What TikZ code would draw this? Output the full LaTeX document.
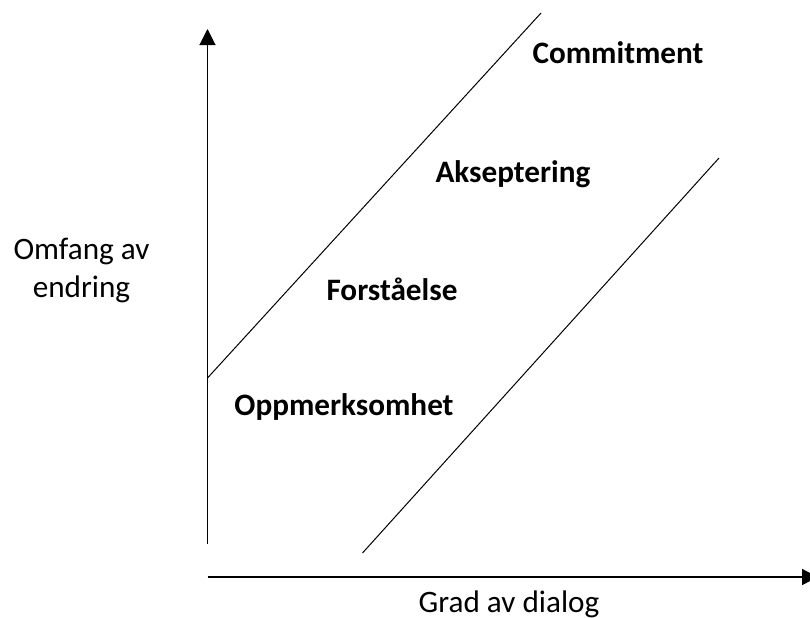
\documentclass[tikz,border=0pt]{standalone}
\usepackage{fontspec}
\setmainfont{Carlito}
\usetikzlibrary{arrows.meta}
\begin{document}
\begin{tikzpicture}[x=0.5pt,y=-0.5pt,
  axis/.style={line width=0.55pt,-{Triangle[length=8pt,width=8pt]}},
  diag/.style={line width=0.5pt},
  stage/.style={font=\fontsize{15.6}{18.7}\selectfont\bfseries,inner sep=0pt,anchor=base},
  caption/.style={font=\fontsize{15.6}{18.7}\selectfont,inner sep=0pt,anchor=base}]
\useasboundingbox (0,0) rectangle (810,617);
% axes
\coordinate (vstart) at (207.5,544);
\coordinate (vend) at (207.5,29);
\coordinate (hstart) at (207.5,577);
\coordinate (hend) at (818,577);
\draw[axis] (vstart) -- (vend);
\draw[axis,line width=0.65pt] (hstart) -- (hend);
% diagonal lines
\coordinate (d1a) at (207.5,378);
\coordinate (d1b) at (541,13);
\coordinate (d2a) at (362.5,553);
\coordinate (d2b) at (719,158);
\draw[diag] (d1a) -- (d1b);
\draw[diag] (d2a) -- (d2b);
% stage labels
\node[stage] (commit) at (618,63) {Commitment};
\node[stage] (aksept) at (513,182) {Akseptering};
\node[stage] (forst) at (392,300) {Forståelse};
\node[stage] (oppm) at (344,415) {Oppmerksomhet};
% axis captions
\node[caption] (omfang1) at (81.5,259) {Omfang av};
\node[caption] (omfang2) at (81.5,297) {endring};
\node[caption] (grad) at (509,612) {Grad av dialog};
\end{tikzpicture}
\end{document}
